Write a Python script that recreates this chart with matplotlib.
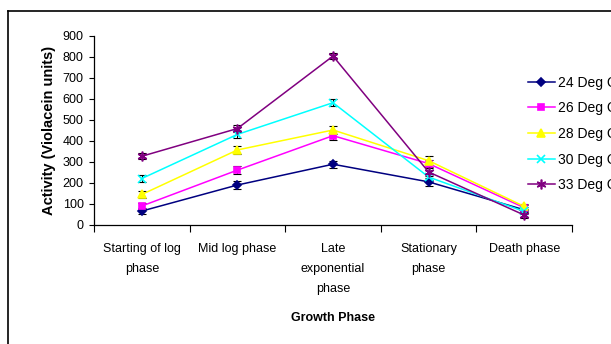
import matplotlib.pyplot as plt
from matplotlib.lines import Line2D

phases = ['Starting of log\nphase', 'Mid log phase', 'Late\nexponential\nphase',
          'Stationary\nphase', 'Death phase']
series_names = ['24 Deg C', '26 Deg C', '28 Deg C', '30 Deg C', '33 Deg C']
deg24 = [64, 188, 287, 203, 70]
deg26 = [88, 259, 423, 290, 80]
deg28 = [143, 355, 450, 304, 86]
deg30 = [219, 429, 580, 226, 62]
deg33 = [325, 457, 802, 250, 45]
err24 = [15, 18, 16, 18, 14]
err26 = [16, 20, 20, 18, 14]
err28 = [18, 18, 18, 20, 14]
err30 = [18, 16, 18, 16, 14]
err33 = [14, 18, 16, 20, 14]

values = [deg24, deg26, deg28, deg30, deg33]
errors = [err24, err26, err28, err30, err33]
colors = ['#000080', '#FF00FF', '#FFFF00', '#00FFFF', '#800080']
markers = ['D', 's', '^', 'x', (6, 2, 0)]
msizes = [4.5, 5, 6, 6, 7]

plt.rcParams['font.family'] = ['Liberation Sans', 'DejaVu Sans']

fig = plt.figure(figsize=(6.11, 3.44), dpi=100)
ax = fig.add_axes([94 / 611, 1 - 224.5 / 344, 478 / 611, 189 / 344])

# outer frame (page box, cut at right/bottom)
fig.add_artist(Line2D([8 / 611, 8 / 611], [0, 1 - 11 / 344], color='black', lw=1.2))
fig.add_artist(Line2D([8 / 611, 1], [1 - 11 / 344, 1 - 11 / 344], color='black', lw=1.2))

x = list(range(1, len(phases) + 1))
handles = []
for vals, errs, c, m, ms, name in zip(values, errors, colors, markers, msizes, series_names):
    ax.errorbar(x, vals, yerr=errs, fmt='none', ecolor='black', elinewidth=0.8,
                capsize=3, capthick=0.8, zorder=2)
    h, = ax.plot(x, vals, color=c, marker=m, markersize=ms, lw=1.1,
                 markeredgecolor=c, markeredgewidth=1.2, label=name, zorder=3)
    handles.append(h)

ax.set_xlim(0.5, 5.5)
ax.set_ylim(0, 900)
ax.set_yticks(range(0, 901, 100))
ax.tick_params(axis='y', labelsize=9, length=3.5, width=0.8, pad=4)
ax.set_xticks([0.5, 1.5, 2.5, 3.5, 4.5, 5.5])
ax.set_xticklabels([])
ax.tick_params(axis='x', which='major', length=5, width=0.8, direction='out')
ax.set_xticks(x, minor=True)
ax.set_xticklabels(phases, minor=True, fontsize=9, linespacing=1.9, va='top')
ax.tick_params(axis='x', which='minor', length=0, pad=13)
for s in ['top', 'right']:
    ax.spines[s].set_visible(False)
for s in ['left', 'bottom']:
    ax.spines[s].set_linewidth(0.9)

ax.set_ylabel('Activity (Violacein units)', fontsize=10.5, fontweight='bold', labelpad=5)
fig.text(333 / 611, 1 - 318 / 344, 'Growth Phase', fontsize=9, fontweight='bold',
         ha='center', va='center')

fig.legend(handles=handles, loc='upper left', bbox_to_anchor=(522 / 611, 1 - 70 / 344),
           frameon=False, fontsize=10, handlelength=2.0, handletextpad=0.2,
           labelspacing=0.84, borderaxespad=0)

plt.savefig('out.png', dpi=100)
